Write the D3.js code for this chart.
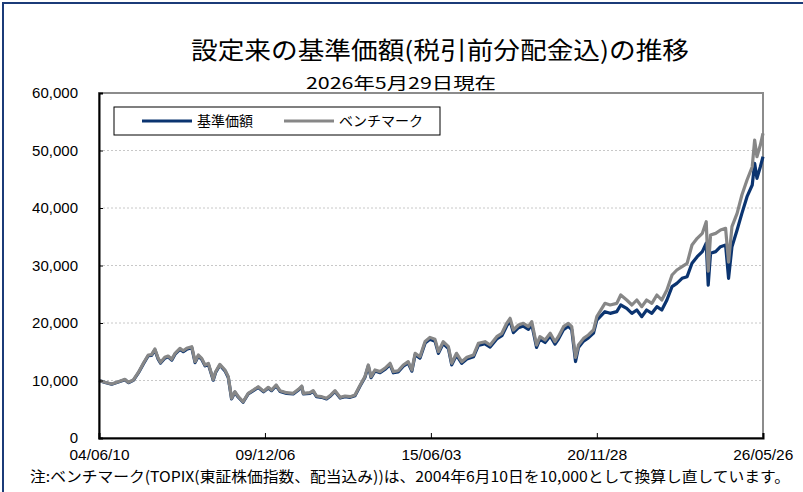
<!DOCTYPE html>
<html>
<head>
<meta charset="utf-8">
<script src="https://cdn.jsdelivr.net/npm/d3@7"></script>
<style>
  body { margin: 0; background: #fff; }
  svg { display: block; }
  .grid-line { stroke: #c8c8c8; stroke-width: 1; stroke-dasharray: 2,2; }
  .line { fill: none; stroke-width: 3.2; stroke-linejoin: round; }
  .y-axis text { font-family: "Liberation Sans", Arial, sans-serif; font-size: 15px; fill: #000; }
  .x-axis text { font-family: "Liberation Sans", Arial, sans-serif; font-size: 15px; fill: #000; }
</style>
</head>
<body>
<script>
// dates (roughly every two months)
const dates = [
  "2004-06-10","2004-08-22","2004-11-10","2005-01-30","2005-04-20","2005-05-30","2005-07-30","2005-09-27",
  "2005-11-28","2006-01-26","2006-03-07","2006-04-16","2006-05-26","2006-06-24","2006-08-14","2006-09-23",
  "2006-11-06","2006-12-16","2007-02-13","2007-03-25","2007-05-05","2007-07-06","2007-08-15","2007-09-24",
  "2007-11-03","2007-12-13","2008-01-22","2008-03-21","2008-04-19","2008-06-09","2008-08-10","2008-09-19",
  "2008-10-29","2008-12-08","2009-01-18","2009-03-17","2009-05-18","2009-07-19","2009-09-16","2009-11-20",
  "2010-01-15","2010-02-24","2010-04-20","2010-06-06","2010-08-25","2010-11-13","2011-01-15","2011-02-24",
  "2011-03-15","2011-06-02","2011-07-12","2011-08-21","2011-10-22","2011-12-20","2012-02-10","2012-04-01",
  "2012-06-02","2012-07-31","2012-10-01","2012-11-28","2013-01-30","2013-03-28","2013-05-08","2013-06-10",
  "2013-07-27","2013-09-27","2013-11-24","2014-01-26","2014-03-07","2014-05-04","2014-07-05","2014-09-02",
  "2014-10-16","2014-11-25","2015-01-22","2015-03-25","2015-05-22","2015-07-23","2015-09-02","2015-10-30",
  "2016-01-01","2016-02-10","2016-04-08","2016-06-10","2016-08-11","2016-10-30","2016-12-28","2017-03-18",
  "2017-05-19","2017-08-07","2017-10-08","2017-12-05","2018-01-15","2018-02-24","2018-04-27","2018-06-24",
  "2018-08-25","2018-10-04","2018-12-01","2019-01-11","2019-03-14","2019-05-15","2019-07-12","2019-08-21",
  "2019-10-23","2019-12-20","2020-01-30","2020-03-16","2020-04-20","2020-06-21","2020-08-18","2020-10-19",
  "2020-11-28","2021-03-06","2021-05-08","2021-07-27","2021-09-13","2021-11-24","2022-01-26","2022-03-26",
  "2022-05-26","2022-07-23","2022-09-24","2022-11-24","2023-01-22","2023-03-25","2023-05-26","2023-07-23",
  "2023-09-24","2023-11-24","2024-01-22","2024-03-25","2024-05-26","2024-07-12","2024-08-05","2024-09-02",
  "2024-11-03","2025-01-01","2025-03-03","2025-04-08","2025-05-19","2025-07-20","2025-09-16","2025-11-17",
  "2026-01-19","2026-02-17","2026-03-17","2026-04-27","2026-05-29"
];

// ベンチマーク (gray)
const benchmark = [
  10000, 9690, 9390, 9790, 10200, 9690, 10090, 11360,
  12990, 14430, 14500, 15480, 13860, 13160, 14030, 14260,
  13690, 14730, 15600, 15180, 15600, 15880, 13270, 14430,
  13850, 12700, 12990, 10200, 11530, 12810, 11830, 10670,
  6900, 8060, 7190, 6310, 7770, 8350, 8920, 8150,
  8810, 8350, 9220, 8230, 7880, 7770, 8470, 9040,
  7770, 7880, 8230, 7300, 7190, 6900, 7480, 8230,
  7070, 7300, 7190, 7480, 9220, 10670, 12700, 10670,
  11830, 11540, 12120, 12990, 11540, 11700, 12700, 13270,
  11830, 14730, 14140, 16800, 17500, 17160, 15010, 16750,
  15880, 12990, 14730, 13270, 14030, 14430, 16470, 16750,
  16170, 17620, 18210, 19950, 20820, 18780, 19650, 19950,
  19360, 20240, 16170, 17620, 17040, 18210, 16750, 17620,
  19360, 19950, 19360, 14000, 16170, 17330, 17910, 18780,
  21100, 23420, 23130, 23420, 24870, 24000, 23130, 24000,
  22840, 24000, 23420, 24870, 24000, 25740, 28350, 29220,
  29800, 30380, 33560, 34720, 35590, 37620, 29000, 35300,
  35590, 36170, 36460, 30600, 36750, 39070, 42260, 44870,
  47180, 51820, 48920, 50950, 52990
];

// 基準価額 (navy)
const fundNav = [
  10000, 9660, 9350, 9740, 10140, 9620, 10020, 11270,
  12880, 14300, 14370, 15330, 13720, 13030, 13880, 14110,
  13540, 14570, 15430, 15010, 15420, 15700, 13110, 14260,
  13680, 12540, 12830, 10060, 11380, 12650, 11680, 10530,
  6800, 7950, 7090, 6220, 7660, 8230, 8800, 8030,
  8690, 8230, 9090, 8110, 7760, 7650, 8340, 8910,
  7650, 7760, 8100, 7180, 7070, 6790, 7360, 8100,
  6950, 7180, 7070, 7360, 9080, 10510, 12510, 10500,
  11640, 11350, 11920, 12770, 11340, 11500, 12480, 13040,
  11620, 14470, 13880, 16500, 17180, 16840, 14720, 16430,
  15570, 12720, 14430, 12990, 13730, 14120, 16110, 16380,
  15810, 17220, 17790, 19490, 20330, 18330, 19180, 19470,
  18890, 19740, 15770, 17180, 16610, 17750, 16320, 17170,
  18860, 19430, 18850, 13300, 15740, 16860, 17420, 18260,
  20520, 21970, 21680, 21970, 23130, 22550, 21680, 22260,
  21100, 22260, 21680, 22840, 22260, 24000, 26320, 26900,
  27770, 28060, 30380, 31540, 32410, 33870, 26600, 32120,
  32410, 33270, 33560, 27770, 33270, 36170, 39070, 41970,
  44000, 47770, 45160, 47180, 48920
];

const yTicks = [0, 10000, 20000, 30000, 40000, 50000, 60000];
const xTickLabels = ["2004-06-10", "2009-12-06", "2015-06-03", "2020-11-28", "2026-05-26"];
const seriesNames = ["基準価額", "ベンチマーク"];
const seriesColors = ["#0b3470", "#878787"];

const parseDate = d3.timeParse("%Y-%m-%d");
const chartData = dates.map((d, i) => ({
  date: parseDate(d),
  fund: fundNav[i],
  bench: benchmark[i]
}));

const width = 803, height = 492;
const plotLeft = 99, plotRight = 763, plotTop = 93, plotBottom = 438;

const svg = d3.select("body").append("svg")
  .attr("width", width)
  .attr("height", height);

// outer navy frame (runs off the right and bottom edges)
svg.append("rect")
  .attr("x", 3).attr("y", 3)
  .attr("width", 830).attr("height", 520)
  .attr("fill", "#fff")
  .attr("stroke", "#1b3b78")
  .attr("stroke-width", 2);

const scaleX = d3.scaleTime()
  .domain([parseDate("2004-06-10"), parseDate("2026-05-29")])
  .range([plotLeft, plotRight]);

const scaleY = d3.scaleLinear()
  .domain([0, 60000])
  .range([plotBottom, plotTop]);

// plot area border (gray)
svg.append("rect")
  .attr("x", plotLeft).attr("y", plotTop)
  .attr("width", plotRight - plotLeft).attr("height", plotBottom - plotTop)
  .attr("fill", "#fff")
  .attr("stroke", "#8c8c8c")
  .attr("stroke-width", 2);

// horizontal grid
svg.selectAll("hline")
  .data(yTicks.slice(1, -1))
  .enter()
  .append("line")
  .attr("class", "grid-line")
  .attr("x1", plotLeft)
  .attr("x2", plotRight)
  .attr("y1", d => scaleY(d))
  .attr("y2", d => scaleY(d));

// lines
const lineFund = d3.line()
  .x(d => scaleX(d.date))
  .y(d => scaleY(d.fund));

const lineBench = d3.line()
  .x(d => scaleX(d.date))
  .y(d => scaleY(d.bench));

svg.append("path")
  .datum(chartData)
  .attr("class", "line")
  .attr("d", lineFund)
  .style("stroke", seriesColors[0]);

svg.append("path")
  .datum(chartData)
  .attr("class", "line")
  .attr("d", lineBench)
  .style("stroke", seriesColors[1]);

// y-axis
const yAxis = svg.append("g")
  .attr("class", "y-axis")
  .attr("transform", `translate(${plotLeft},0)`)
  .call(d3.axisLeft(scaleY).tickValues(yTicks).tickFormat(d3.format(",")).tickSize(-4).tickPadding(21));
yAxis.select(".domain").attr("stroke", "#000").attr("stroke-width", 2);
yAxis.selectAll(".tick line").attr("stroke", "#000");

// x-axis
const xAxis = svg.append("g")
  .attr("class", "x-axis")
  .attr("transform", `translate(0,${plotBottom})`)
  .call(d3.axisBottom(scaleX).tickValues(xTickLabels.map(parseDate)).tickFormat(d3.timeFormat("%y/%m/%d")).tickSize(-5).tickPadding(11));
xAxis.select(".domain").attr("stroke", "#000").attr("stroke-width", 2);
xAxis.selectAll(".tick line").attr("stroke", "#000");
xAxis.selectAll(".tick text")
  .attr("textLength", 60)
  .attr("lengthAdjust", "spacingAndGlyphs");

// legend
const legendGroup = svg.append("g")
  .attr("class", "legend")
  .attr("transform", "translate(114,107)");

legendGroup.append("rect")
  .attr("x", 0).attr("y", 0)
  .attr("width", 326).attr("height", 28)
  .attr("fill", "#fff")
  .attr("stroke", "#000")
  .attr("stroke-width", 1);

const legendItems = legendGroup.selectAll("g")
  .data(seriesNames)
  .enter().append("g")
  .attr("transform", (d, i) => `translate(${28 + i * 142},14)`);

legendItems.append("line")
  .attr("x1", 0).attr("x2", 50)
  .attr("y1", 0).attr("y2", 0)
  .attr("stroke", (d, i) => seriesColors[i])
  .attr("stroke-width", 3);

legendItems.append("text")
  .attr("x", 55)
  .attr("y", 5)
  .style("font-family", "'Noto Sans CJK JP', sans-serif")
  .style("font-size", "14px")
  .text(d => d);

// titles
svg.append("text")
  .attr("x", 440).attr("y", 59)
  .attr("text-anchor", "middle")
  .attr("textLength", 498)
  .attr("lengthAdjust", "spacingAndGlyphs")
  .style("font-family", "'Noto Sans CJK JP', sans-serif")
  .style("font-size", "24px")
  .text("設定来の基準価額(税引前分配金込)の推移");

svg.append("text")
  .attr("x", 401).attr("y", 89)
  .attr("text-anchor", "middle")
  .attr("textLength", 190)
  .attr("lengthAdjust", "spacingAndGlyphs")
  .style("font-family", "'Noto Sans CJK JP', sans-serif")
  .style("font-size", "16px")
  .text("2026年5月29日現在");

// footnote
svg.append("text")
  .attr("x", 30).attr("y", 482)
  .attr("textLength", 760)
  .attr("lengthAdjust", "spacingAndGlyphs")
  .style("font-family", "'Noto Sans CJK JP', sans-serif")
  .style("font-size", "15px")
  .text("注:ベンチマーク(TOPIX(東証株価指数、配当込み))は、2004年6月10日を10,000として換算し直しています。");
</script>
</body>
</html>
